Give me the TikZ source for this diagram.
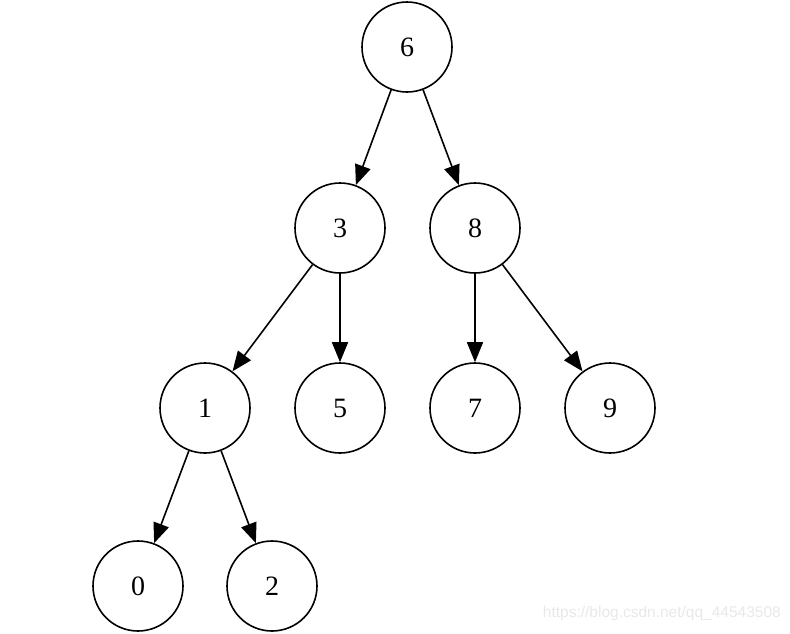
\documentclass[tikz,border=0pt]{standalone}
\usepackage{fontspec}
\setmainfont{Liberation Serif}
\newfontfamily\wmfont{Liberation Sans}
\usetikzlibrary{arrows.meta}
\definecolor{wmgray}{RGB}{232,232,232}
\begin{document}
\begin{tikzpicture}[x=1pt,y=-1pt,
  treenode/.style={circle,draw=black,line width=1.6pt,minimum size=90pt,inner sep=0pt,font=\fontsize{28}{32}\selectfont},
  edge/.style={line width=1.6pt,-{Triangle[length=20pt,width=16pt]}}]
\useasboundingbox (0,0) rectangle (790,633);
\node[treenode] (n6) at (407,47) {6};
\node[treenode] (n3) at (340,228) {3};
\node[treenode] (n8) at (475,228) {8};
\node[treenode] (n1) at (205,408) {1};
\node[treenode] (n5) at (340,408) {5};
\node[treenode] (n7) at (475,408) {7};
\node[treenode] (n9) at (610,408) {9};
\node[treenode] (n0) at (138,586) {0};
\node[treenode] (n2) at (272,586) {2};
\draw[edge] (n6) -- (n3);
\draw[edge] (n6) -- (n8);
\draw[edge] (n3) -- (n1);
\draw[edge] (n3) -- (n5);
\draw[edge] (n8) -- (n7);
\draw[edge] (n8) -- (n9);
\draw[edge] (n1) -- (n0);
\draw[edge] (n1) -- (n2);
\node[anchor=east,text=wmgray,font=\wmfont\fontsize{15.5}{18}\selectfont,inner sep=0pt] (wm) at (781,613) {https://blog.csdn.net/qq\_44543508};
\end{tikzpicture}
\end{document}
